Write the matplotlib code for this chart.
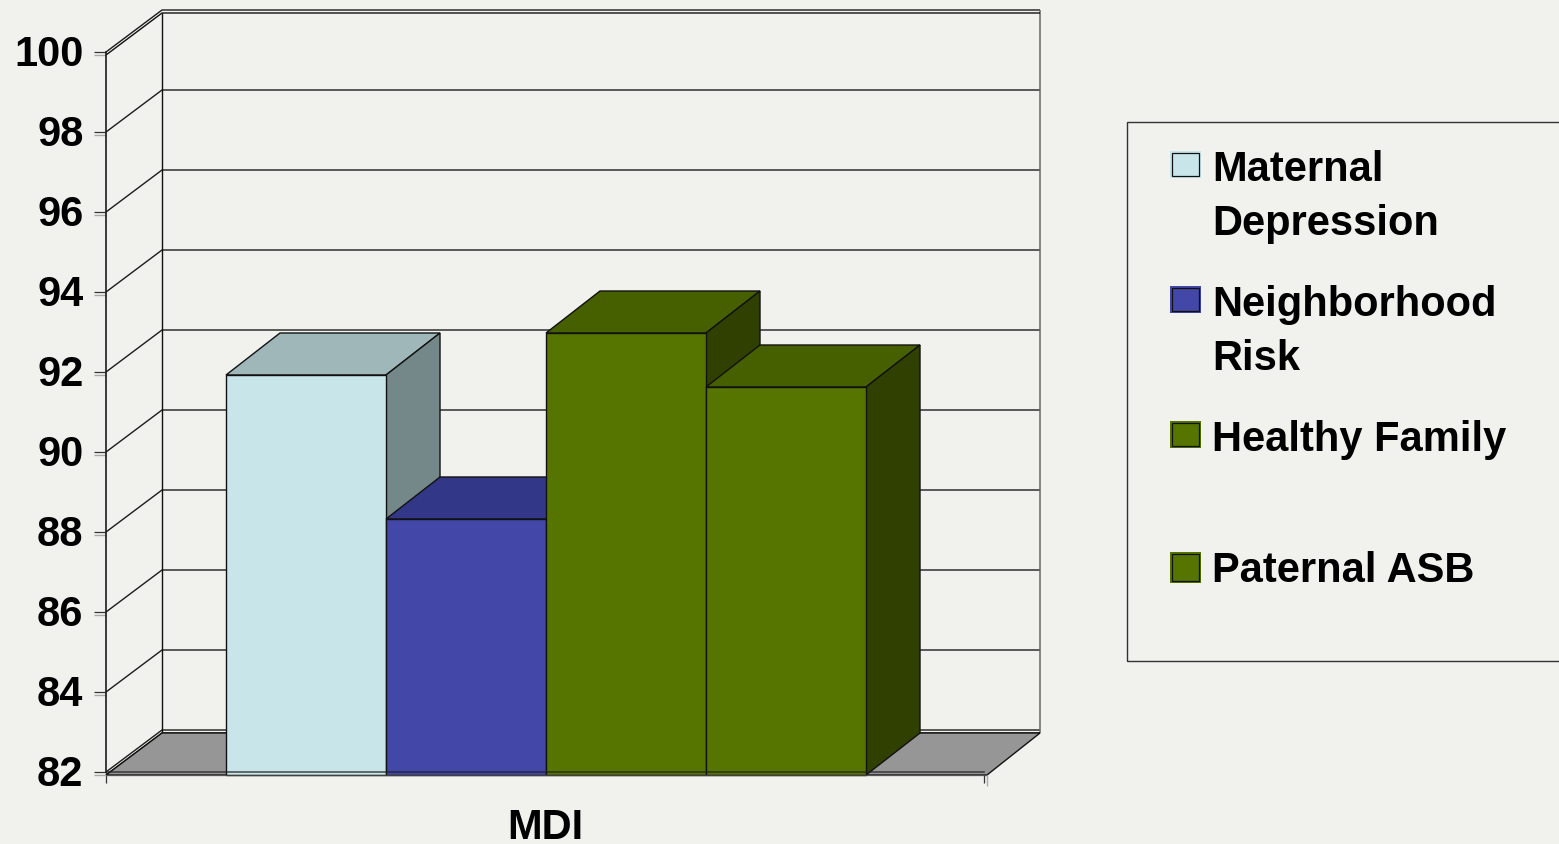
import matplotlib
matplotlib.use("Agg")
from matplotlib import pyplot as plt
from matplotlib.patches import Polygon, Rectangle
from matplotlib.transforms import ScaledTranslation

plt.rcParams['font.family'] = ['Liberation Sans', 'DejaVu Sans']
plt.rcParams['font.weight'] = 'bold'

series = ['Maternal\nDepression', 'Neighborhood\nRisk', 'Healthy Family', 'Paternal ASB']
values = [92.0, 88.4, 93.05, 91.7]
category = 'MDI'
yticks = [82, 84, 86, 88, 90, 92, 94, 96, 98, 100]

front_colors = ['#C8E6EA', '#4347A8', '#567500', '#567500']
top_colors = ['#A0B7B9', '#333787', '#466000', '#466000']
side_colors = ['#748789', '#333787', '#2F4000', '#2F4000']
bg = '#F1F2EE'
W, H = 1559, 844

fig = plt.figure(figsize=(W / 100, H / 100), dpi=100, facecolor=bg)

# front plane of the fake 3d box
left, right, bottom, top = 106, 984, 772, 52
ax = fig.add_axes([left / W, 1 - bottom / H, (right - left) / W, (bottom - top) / H])
ax.set_facecolor('none')
ax.set_xlim(0, 1)
ax.set_ylim(82, 100)

px_x = 1 / (right - left)
px_y = 18 / (bottom - top)
dx = 56 * px_x
dy = 42 * px_y
bar_dx = 54 * px_x
shift = 3 * px_y
line = '#1c1c1c'


def seg(xs, ys, color=line, lw=1.0, z=1, alpha=1):
    ax.plot(xs, ys, color=color, lw=lw, zorder=z, alpha=alpha, clip_on=False, solid_capstyle='butt')


# floor
base = 82 - shift
ax.add_patch(Polygon([(0, base), (1 + 3 * px_x, base), (1 + dx, base + dy), (dx, base + dy)],
                     facecolor='#969696', edgecolor='#111111', lw=1.0, zorder=2, clip_on=False))

# walls and grid
for t in yticks:
    seg([0, dx, 1 + dx], [t, t + dy, t + dy])
for t in [82, 100]:
    seg([0, dx, 1 + dx], [t - shift, t - shift + dy, t - shift + dy], color='#111111', z=1.5)
seg([dx, dx], [82 - shift + dy, 100 - shift + dy], color='#111111')
seg([1 + dx, 1 + dx], [82 - shift + dy, 100 + dy], color='#666666', lw=1.1)

# bars, left to right so the next one covers the previous side
bar_w = 160 * px_x
x_start = 120 * px_x
for i, v in enumerate(values):
    x0 = x_start + i * bar_w
    x1 = x0 + bar_w
    y1 = v - shift
    ax.add_patch(Polygon([(x0, y1), (x0 + bar_dx, y1 + dy), (x1 + bar_dx, y1 + dy), (x1, y1)],
                         facecolor=top_colors[i], edgecolor='#111111', lw=1.0, zorder=3 + i, clip_on=False))
    ax.add_patch(Polygon([(x1, base), (x1 + bar_dx, base + dy), (x1 + bar_dx, y1 + dy), (x1, y1)],
                         facecolor=side_colors[i], edgecolor='#111111', lw=1.0, zorder=3 + i, clip_on=False))
    ax.add_patch(Rectangle((x0, base), bar_w, y1 - base, facecolor=front_colors[i],
                           edgecolor='#111111', lw=1.0, zorder=3.5 + i, clip_on=False))

# second gray axis line and ticks
for t in yticks:
    seg([-12 * px_x, 0], [t - shift, t - shift], color='#aaaaaa', z=9)
seg([0, 1 + 3 * px_x], [base, base], color='#555555', z=9, alpha=0.7)
seg([1 + 3 * px_x, 1 + 3 * px_x], [base, base - 11 * px_y], color='#aaaaaa', z=9)

# axes
for s in ['top', 'right']:
    ax.spines[s].set_visible(False)
ax.spines['left'].set_color('#1c1c1c')
ax.spines['left'].set_linewidth(1.2)
ax.spines['bottom'].set_color('#222222')
ax.spines['bottom'].set_linewidth(1.2)
ax.spines['bottom'].set_alpha(0.75)
ax.spines['left'].set_zorder(10)
ax.spines['bottom'].set_zorder(10)
ax.set_yticks(yticks)
ax.set_yticklabels([str(t) for t in yticks], fontsize=30, fontweight='bold')
ax.tick_params(axis='y', length=8.5, width=0.9, color='#333333', pad=7)
up = ScaledTranslation(-1 / 100, 2 / 100, fig.dpi_scale_trans)
for lab in ax.get_yticklabels():
    lab.set_transform(lab.get_transform() + up)
ax.set_xticks([0, 1])
ax.set_xticklabels(['', ''])
ax.tick_params(axis='x', which='major', length=8, width=0.9, color='#333333')
ax.set_xticks([0.5], minor=True)
ax.set_xticklabels([category], minor=True, fontsize=30, fontweight='bold')
ax.tick_params(axis='x', which='minor', length=0, pad=26)

# legend, placed by hand like the original
tf = fig.transFigure
fig.add_artist(Rectangle((1127 / W, 1 - 661 / H), (W + 20 - 1127) / W, (661 - 122) / H, transform=tf,
                         facecolor='none', edgecolor='#333333', lw=1.0))
swatch_tops = [151, 286, 421, 552]
swatch_heights = [27, 27, 27, 31]
first_baselines = [181, 316, 451, 582]
for i, name in enumerate(series):
    sy = swatch_tops[i]
    sh = swatch_heights[i]
    fig.add_artist(Rectangle((1170 / W, 1 - (sy + sh) / H), 31 / W, sh / H, transform=tf,
                             facecolor=front_colors[i], edgecolor='none'))
    fig.add_artist(Rectangle((1172 / W, 1 - (sy + sh - 2) / H), 27 / W, (sh - 4) / H, transform=tf,
                             facecolor='none', edgecolor='#111111', lw=0.9))
    for j, part in enumerate(name.split('\n')):
        fig.text(1212.5 / W, 1 - (first_baselines[i] + j * 54) / H, part, fontsize=30, fontweight='bold',
                 color='black', va='baseline', ha='left')

fig.savefig('out.png', dpi=100, facecolor=bg)
